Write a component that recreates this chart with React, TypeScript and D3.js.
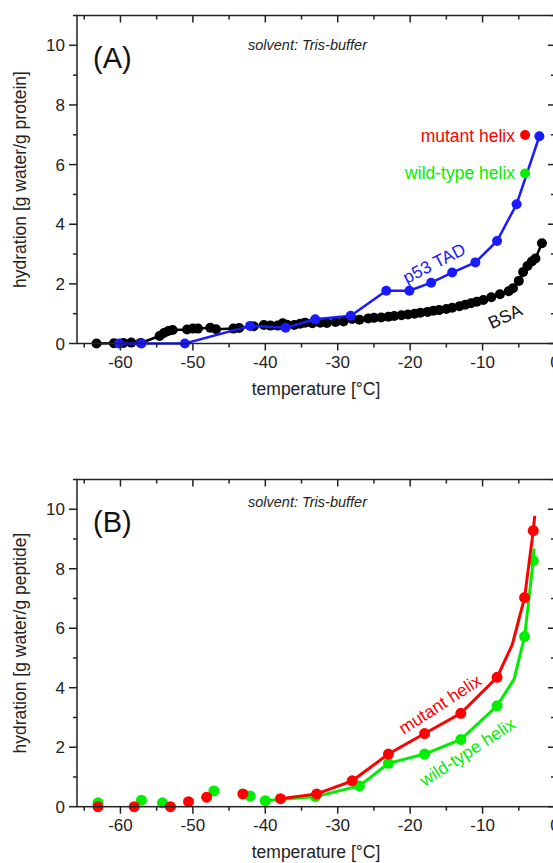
import React from "react";
import * as d3 from "d3";

// ---------- data ----------
const bsaT = [-63.3,-60.9,-59.6,-58.5,-57.2,-54.6,-54.0,-53.4,-52.8,-50.8,-50.0,-49.3,-47.6,-46.8,-44.4,-43.6,-41.6,-40.2,-39.3,-38.3,-37.6,-37.0,-36.0,-35.2,-34.5,-33.5,-32.4,-31.5,-30.3,-29.2,-28.0,-27.0,-25.8,-25.0,-24.0,-23.0,-22.2,-21.2,-20.3,-19.4,-18.6,-17.6,-16.8,-16.0,-15.0,-14.2,-13.2,-12.4,-11.6,-10.8,-9.9,-8.8,-7.6,-6.4,-5.8,-5.0,-4.4,-3.8,-3.2,-2.7,-1.8];
const bsaH = [0.0,0.01,0.02,0.03,0.02,0.25,0.35,0.42,0.45,0.47,0.5,0.5,0.53,0.48,0.5,0.52,0.58,0.62,0.6,0.6,0.68,0.63,0.62,0.66,0.7,0.68,0.7,0.69,0.72,0.74,0.82,0.8,0.84,0.86,0.87,0.9,0.92,0.95,0.97,1.0,1.03,1.06,1.1,1.12,1.16,1.2,1.25,1.3,1.35,1.4,1.46,1.55,1.65,1.75,1.85,2.1,2.4,2.6,2.75,2.85,3.36];

const p53T = [-60.2,-57.1,-51.1,-42.1,-37.2,-33.1,-28.2,-23.3,-20.1,-17.1,-14.2,-11.0,-8.0,-5.3,-2.16];
const p53H = [0,0,0,0.59,0.53,0.81,0.93,1.77,1.77,2.04,2.38,2.72,3.44,4.67,6.95];

const mutantRefT = [-4.13];
const mutantRefH = [6.99];
const wildRefT = [-4.13];
const wildRefH = [5.70];

// panel B points
const mutantT = [-63.1,-58.1,-53.1,-50.6,-48.1,-43.1,-37.9,-32.9,-28.0,-23.0,-18.0,-13.0,-8.0,-4.2,-3.0];
const mutantH = [0,0,0,0.17,0.32,0.43,0.27,0.43,0.87,1.77,2.46,3.14,4.35,7.03,9.28];
const wildT = [-63.1,-57.1,-54.2,-47.1,-42.1,-40.0,-33.1,-27.0,-23.0,-18.0,-13.0,-8.0,-4.2,-3.0];
const wildH = [0.13,0.22,0.13,0.53,0.36,0.2,0.34,0.7,1.46,1.77,2.26,3.39,5.72,8.27];
// panel B curves
const mutantLineT = [-37.9,-32.9,-28.0,-23.0,-18.0,-13.0,-8.0,-5.9,-4.2,-3.0,-2.8];
const mutantLineH = [0.27,0.43,0.87,1.77,2.46,3.14,4.35,5.45,7.03,9.28,9.78];
const wildLineT = [-40.0,-33.1,-27.0,-23.0,-18.0,-13.0,-8.0,-5.65,-4.2,-3.0,-2.9];
const wildLineH = [0.2,0.34,0.7,1.46,1.77,2.26,3.39,4.29,5.72,8.27,8.68];

const xMajor = [-60,-50,-40,-30,-20,-10,0];
const xMinor = [-65,-55,-45,-35,-25,-15,-5];
const yMajor = [0,2,4,6,8,10];
const yMinor = [1,3,5,7,9,11];

const FONT = "'Liberation Sans', Arial, sans-serif";
const BLUE = "#1a1aff";
const RED = "#ff0000";
const GREEN = "#00ee00";

const zip = (a: number[], b: number[]) => a.map((v, i) => [v, b[i]] as [number, number]);

function Panel({ top, bottom, letter, yTitle, solventY, children }: any) {
  const x = d3.scaleLinear().domain([-66, 0]).range([77, 555]);
  const y = d3.scaleLinear().domain([0, 11]).range([bottom, top]);
  const left = 77, right = 555;
  const ax = "#222";
  return (
    <g>
      {children(x, y)}
      {/* frame */}
      <rect x={left} y={top} width={right - left} height={bottom - top} fill="none" stroke={ax} strokeWidth={1.5} />
      {/* bottom ticks (out) & top ticks (in) */}
      {xMajor.map((t) => (
        <g key={"xM" + t}>
          <line x1={x(t)} x2={x(t)} y1={bottom} y2={bottom + 7} stroke={ax} strokeWidth={1.5} />
          <line x1={x(t)} x2={x(t)} y1={top} y2={top + 7} stroke={ax} strokeWidth={1.5} />
          <text x={x(t)} y={bottom + 24} textAnchor="middle" fontSize={17} fontFamily={FONT} fill="#222">{t === 0 ? "0" : "-" + Math.abs(t)}</text>
        </g>
      ))}
      {xMinor.map((t) => (
        <g key={"xm" + t}>
          <line x1={x(t)} x2={x(t)} y1={bottom} y2={bottom + 4} stroke={ax} strokeWidth={1.5} />
          <line x1={x(t)} x2={x(t)} y1={top} y2={top + 4} stroke={ax} strokeWidth={1.5} />
        </g>
      ))}
      {yMajor.map((v) => (
        <g key={"yM" + v}>
          <line x1={left - 8} x2={left} y1={y(v)} y2={y(v)} stroke={ax} strokeWidth={1.5} />
          <line x1={right - 7} x2={right} y1={y(v)} y2={y(v)} stroke={ax} strokeWidth={1.5} />
          <text x={left - 12} y={y(v)} dy="0.36em" textAnchor="end" fontSize={17} fontFamily={FONT} fill="#222">{v}</text>
        </g>
      ))}
      {yMinor.map((v) => (
        <g key={"ym" + v}>
          <line x1={left - 4} x2={left} y1={y(v)} y2={y(v)} stroke={ax} strokeWidth={1.5} />
          <line x1={right - 4} x2={right} y1={y(v)} y2={y(v)} stroke={ax} strokeWidth={1.5} />
        </g>
      ))}
      <text x={(left + right) / 2} y={bottom + 51.5} textAnchor="middle" fontSize={17.5} fontFamily={FONT} fill="#222">temperature [°C]</text>
      <text transform={`translate(26,${(top + bottom) / 2}) rotate(-90)`} textAnchor="middle" fontSize={17.5} fontFamily={FONT} fill="#222">{yTitle}</text>
      <text x={93} y={top + 52.5} fontSize={29} fontFamily={FONT} fill="#111">{letter}</text>
      <text x={248} y={solventY} fontSize={14.5} fontStyle="italic" fontFamily={FONT} fill="#222">solvent: Tris-buffer</text>
    </g>
  );
}

export default function App() {
  const line = (x: any, y: any) => d3.line<[number, number]>().x((d) => x(d[0])).y((d) => y(d[1]));
  return (
    <svg width={553} height={863} style={{ position: "absolute", left: 0, top: 0, background: "#fff" }}>
      <Panel top={15.5} bottom={343.5} letter="(A)" yTitle="hydration [g water/g protein]" solventY={50}>
        {(x: any, y: any) => {
          const bsa = zip(bsaT, bsaH);
          const p53 = zip(p53T, p53H);
          return (
            <g>
              <path d={line(x, y)(bsa) || ""} fill="none" stroke="#000" strokeWidth={2.5} />
              {bsa.map((d, i) => <circle key={"b" + i} cx={x(d[0])} cy={y(d[1])} r={5} fill="#000" />)}
              <path d={line(x, y)(p53) || ""} fill="none" stroke={BLUE} strokeWidth={2.5} />
              {p53.map((d, i) => <circle key={"p" + i} cx={x(d[0])} cy={y(d[1])} r={5} fill={BLUE} />)}
              {zip(mutantRefT, mutantRefH).map((d, i) => <circle key={"mr" + i} cx={x(d[0])} cy={y(d[1])} r={5} fill={RED} />)}
              {zip(wildRefT, wildRefH).map((d, i) => <circle key={"wr" + i} cx={x(d[0])} cy={y(d[1])} r={5} fill={GREEN} />)}
              <text x={x(-5.52)} y={y(6.98)} dy="0.36em" textAnchor="end" fontSize={17.5} fontFamily={FONT} fill={RED}>mutant helix</text>
              <text x={x(-5.52)} y={y(5.72)} dy="0.36em" textAnchor="end" fontSize={17.5} fontFamily={FONT} fill={GREEN}>wild-type helix</text>
              <text transform={`translate(${x(-16.7)},${y(2.7)}) rotate(-27)`} dy="0.36em" textAnchor="middle" fontSize={17.5} fontFamily={FONT} fill={BLUE}>p53 TAD</text>
              <text transform={`translate(${x(-6.9)},${y(0.92)}) rotate(-25)`} dy="0.36em" textAnchor="middle" fontSize={17.5} fontFamily={FONT} fill="#111">BSA</text>
            </g>
          );
        }}
      </Panel>
      <Panel top={479.5} bottom={806.7} letter="(B)" yTitle="hydration [g water/g peptide]" solventY={507}>
        {(x: any, y: any) => {
          const wl = zip(wildLineT, wildLineH);
          const ml = zip(mutantLineT, mutantLineH);
          return (
            <g>
              <path d={line(x, y)(wl) || ""} fill="none" stroke={GREEN} strokeWidth={3} />
              {zip(wildT, wildH).map((d, i) => <circle key={"w" + i} cx={x(d[0])} cy={y(d[1])} r={5.5} fill={GREEN} />)}
              <path d={line(x, y)(ml) || ""} fill="none" stroke={RED} strokeWidth={3} />
              {zip(mutantT, mutantH).map((d, i) => <circle key={"m" + i} cx={x(d[0])} cy={y(d[1])} r={5.5} fill={RED} />)}
              <text transform={`translate(${x(-15.9)},${y(3.45)}) rotate(-33)`} dy="0.36em" textAnchor="middle" fontSize={17.5} fontFamily={FONT} fill={RED}>mutant helix</text>
              <text transform={`translate(${x(-12.1)},${y(1.85)}) rotate(-33)`} dy="0.36em" textAnchor="middle" fontSize={17.5} fontFamily={FONT} fill={GREEN}>wild-type helix</text>
            </g>
          );
        }}
      </Panel>
    </svg>
  );
}
